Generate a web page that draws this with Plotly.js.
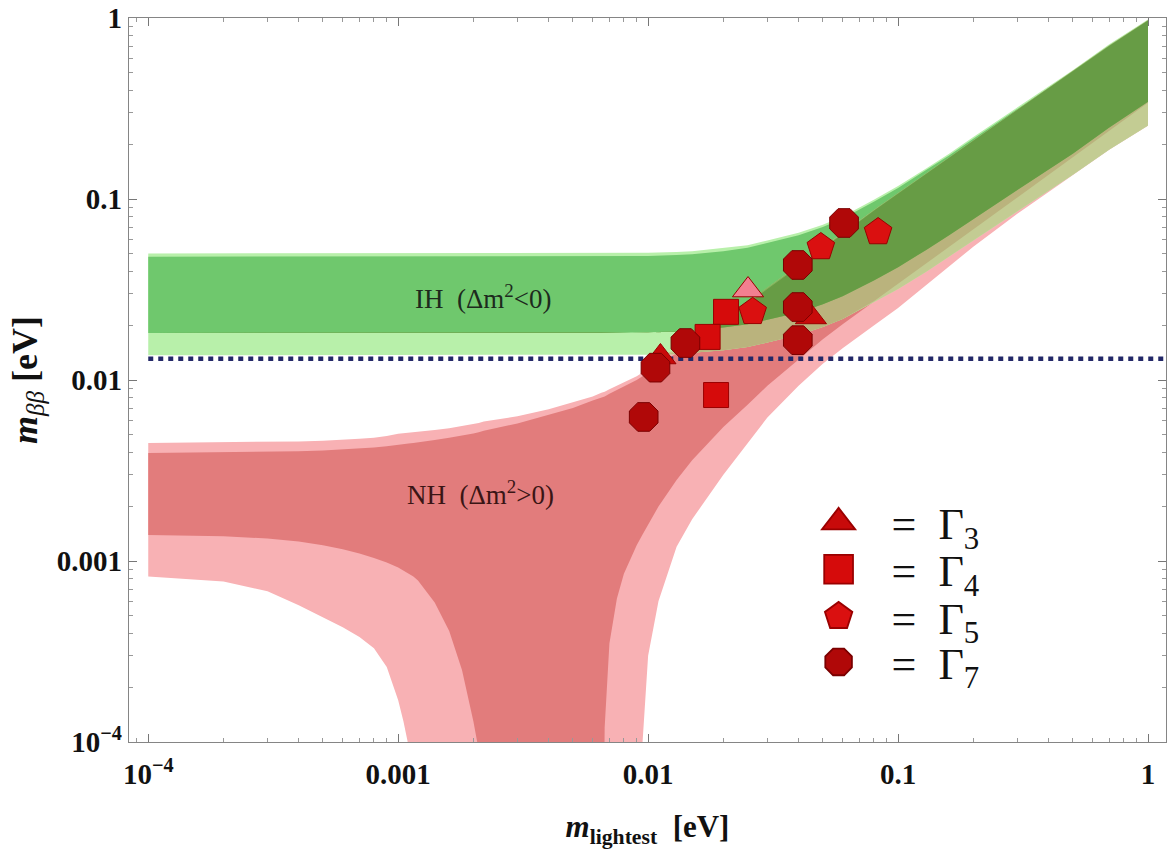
<!DOCTYPE html>
<html>
<head>
<meta charset="utf-8">
<script src="https://cdn.plot.ly/plotly-3.0.1.min.js"></script>
<style>html,body{margin:0;padding:0;background:#fff;}</style>
</head>
<body>
<div id="chart" style="width:1173px;height:866px;"></div>
<script>
// ---- data ----
const mLightest = [1e-4, 2e-4, 3e-4, 4e-4, 5e-4, 6e-4, 7e-4, 8e-4, 9e-4, 1e-3,
  1.05e-3, 1.1e-3, 1.15e-3, 1.2e-3, 1.4e-3, 1.6e-3, 1.8e-3, 2e-3, 2.1e-3, 2.2e-3,
  3e-3, 4e-3, 5e-3, 6e-3, 6.5e-3, 6.7e-3, 7e-3, 7.5e-3, 8e-3, 9e-3,
  9.5e-3, 0.01, 0.011, 0.013, 0.015, 0.02, 0.025, 0.03, 0.04, 0.05,
  0.06, 0.08, 0.1, 0.13, 0.16, 0.2, 0.3, 0.5, 0.7, 1];

// Inverted hierarchy band (3 sigma outer, inner)
const ihOuterUpper = [0.05, 0.05, 0.05, 0.05, 0.05, 0.05, 0.05, 0.05, 0.05, 0.05,
  0.05, 0.05, 0.05, 0.05, 0.05, 0.05, 0.05, 0.05, 0.05, 0.05,
  0.05, 0.05, 0.05, 0.0501, 0.0501, 0.0501, 0.0501, 0.0502, 0.0502, 0.0503,
  0.0504, 0.0505, 0.0506, 0.051, 0.0515, 0.0535, 0.0556, 0.059, 0.065, 0.072,
  0.08, 0.099, 0.118, 0.148, 0.178, 0.22, 0.32, 0.515, 0.715, 0.98];
const ihInnerUpper = [0.048, 0.048, 0.048, 0.048, 0.048, 0.048, 0.048, 0.048, 0.048, 0.048,
  0.048, 0.048, 0.048, 0.048, 0.048, 0.048, 0.048, 0.048, 0.048, 0.048,
  0.048, 0.048, 0.048, 0.0481, 0.0481, 0.0481, 0.0481, 0.0482, 0.0482, 0.0483,
  0.0484, 0.0485, 0.0486, 0.049, 0.0495, 0.0515, 0.0537, 0.057, 0.063, 0.07,
  0.078, 0.0965, 0.115, 0.145, 0.174, 0.215, 0.314, 0.507, 0.705, 0.97];
const ihInnerLower = [0.0182, 0.0182, 0.0182, 0.0182, 0.0182, 0.0182, 0.0182, 0.0182, 0.0182, 0.0182,
  0.0182, 0.0182, 0.0182, 0.0182, 0.0182, 0.0182, 0.0182, 0.0182, 0.0182, 0.0182,
  0.0182, 0.0182, 0.0182, 0.0182, 0.0182, 0.0182, 0.0182, 0.0182, 0.0182, 0.0183,
  0.0183, 0.0183, 0.0184, 0.0185, 0.0187, 0.0195, 0.0203, 0.0215, 0.0236, 0.0262,
  0.029, 0.0355, 0.042, 0.0525, 0.063, 0.077, 0.112, 0.178, 0.248, 0.345];
const ihOuterLower = [0.0137, 0.0137, 0.0137, 0.0137, 0.0137, 0.0137, 0.0137, 0.0137, 0.0137, 0.0137,
  0.0137, 0.0137, 0.0137, 0.0137, 0.0137, 0.0137, 0.0137, 0.0137, 0.0137, 0.0137,
  0.0137, 0.0137, 0.0137, 0.0137, 0.0137, 0.0137, 0.0137, 0.0137, 0.0137, 0.0138,
  0.0138, 0.0138, 0.0138, 0.0139, 0.0141, 0.0146, 0.0152, 0.0161, 0.0177, 0.0196,
  0.0217, 0.0268, 0.0318, 0.0398, 0.0478, 0.059, 0.0855, 0.136, 0.188, 0.255];

// Normal hierarchy band (3 sigma outer, inner); 1e-6 = cancellation below the frame
const nhOuterUpper = [0.00449, 0.00452, 0.00455, 0.00458, 0.00462, 0.00467, 0.00473, 0.0048, 0.0049, 0.00505,
  0.00508, 0.00511, 0.00514, 0.00517, 0.0053, 0.00542, 0.00555, 0.00568, 0.00578, 0.00589,
  0.0063, 0.0069, 0.0075, 0.0081, 0.0085, 0.0086, 0.0089, 0.0093, 0.0097, 0.0105,
  0.011, 0.0115, 0.0125, 0.0146, 0.0166, 0.0217, 0.027, 0.0325, 0.0432, 0.054,
  0.065, 0.087, 0.108, 0.139, 0.17, 0.211, 0.311, 0.511, 0.706, 0.975];
const nhInnerUpper = [0.00395, 0.00398, 0.00401, 0.00404, 0.00408, 0.00413, 0.00418, 0.00424, 0.0043, 0.0044,
  0.00443, 0.00446, 0.00449, 0.00452, 0.00466, 0.00479, 0.00492, 0.00506, 0.00515, 0.00525,
  0.00575, 0.0064, 0.0070, 0.0077, 0.0080, 0.0081, 0.0084, 0.0088, 0.0092, 0.0100,
  0.0105, 0.011, 0.0121, 0.0141, 0.0161, 0.0211, 0.0263, 0.0318, 0.0424, 0.053,
  0.064, 0.086, 0.107, 0.138, 0.169, 0.21, 0.31, 0.51, 0.7, 0.97];
const nhInnerLower = [0.00139, 0.00137, 0.00133, 0.00128, 0.00122, 0.00116, 0.0011, 0.00104, 0.00098, 0.00092,
  0.00089, 0.00085, 0.00082, 0.00078, 0.00059, 0.00041, 0.00025, 0.00013, 0.00009, 1e-6,
  1e-6, 1e-6, 1e-6, 1e-6, 1e-6, 0.00012, 0.00035, 0.00062, 0.00085, 0.00122,
  0.0014, 0.0016, 0.002, 0.0028, 0.0036, 0.0055, 0.0073, 0.0093, 0.013, 0.0168,
  0.0203, 0.0272, 0.034, 0.0443, 0.0545, 0.068, 0.102, 0.17, 0.238, 0.34];
const nhOuterLower = [0.00082, 0.00077, 0.00068, 0.00057, 0.00049, 0.00043, 0.00038, 0.00033, 0.00026, 0.00017,
  0.00013, 0.000095, 1e-6, 1e-6, 1e-6, 1e-6, 1e-6, 1e-6, 1e-6, 1e-6,
  1e-6, 1e-6, 1e-6, 1e-6, 1e-6, 1e-6, 1e-6, 1e-6, 1e-6, 1e-6,
  0.0001, 0.0003, 0.0006, 0.0012, 0.0017, 0.003, 0.0045, 0.0062, 0.0093, 0.0123,
  0.015, 0.02, 0.025, 0.0335, 0.0425, 0.0545, 0.083, 0.135, 0.187, 0.254];

// experimental bound (dotted line)
const boundX = [1e-4, 2];
const boundY = [0.0131, 0.0131];

// model points
const g3X = [0.0112, 0.0448, 0.0251];
const g3Y = [0.0134, 0.0223, 0.0314];
const g4X = [0.0205, 0.0173, 0.0187];
const g4Y = [0.0238, 0.0173, 0.00826];
const g5X = [0.0832, 0.0491, 0.0262];
const g5Y = [0.0657, 0.0543, 0.0238];
const g7X = [0.0608, 0.0397, 0.0397, 0.0397, 0.0141, 0.0107, 0.0096];
const g7Y = [0.0737, 0.0432, 0.0253, 0.0166, 0.016, 0.0117, 0.00625];

const tickVals = [1e-4, 1e-3, 1e-2, 1e-1, 1];
const tickText = ['10<sup>\u22124</sup>', '0.001', '0.01', '0.1', '1'];

// ---- build ----
function band(lo, hi, color) {
  const rev = mLightest.slice().reverse();
  return {
    type: 'scatter', mode: 'lines',
    x: mLightest.concat(rev),
    y: hi.concat(lo.slice().reverse()),
    fill: 'toself', fillcolor: color,
    line: {width: 0, color: color},
    hoverinfo: 'skip', showlegend: false
  };
}
function overlap(loA, hiA, loB, hiB) {
  const lo = loA.map((v, i) => Math.max(v, loB[i]));
  const hi = hiA.map((v, i) => Math.max(lo[i], Math.min(v, hiB[i])));
  return [lo, hi];
}

const ovOO = overlap(ihOuterLower, ihOuterUpper, nhOuterLower, nhOuterUpper);
const ovOI = overlap(ihOuterLower, ihOuterUpper, nhInnerLower, nhInnerUpper);
const ovIO = overlap(ihInnerLower, ihInnerUpper, nhOuterLower, nhOuterUpper);
const ovII = overlap(ihInnerLower, ihInnerUpper, nhInnerLower, nhInnerUpper);

const serif = 'Liberation Serif, Times New Roman, serif';
const lgName = n => '&nbsp;&nbsp;&nbsp;=&nbsp;&nbsp;\u0393<sub>' + n + '</sub>';

const traces = [
  band(nhOuterLower, nhOuterUpper, '#f8b1b4'),
  band(nhInnerLower, nhInnerUpper, '#e27c7c'),
  band(ihOuterLower, ihOuterUpper, '#b8f0aa'),
  band(ihInnerLower, ihInnerUpper, '#6fc86d'),
  band(ovOO[0], ovOO[1], '#c3cc93'),
  band(ovOI[0], ovOI[1], '#bab37d'),
  band(ovIO[0], ovIO[1], '#84b65e'),
  band(ovII[0], ovII[1], '#679c45'),
  {type: 'scatter', mode: 'lines', x: boundX, y: boundY,
   line: {color: '#232868', width: 4.5, dash: '5px,5px'},
   hoverinfo: 'skip', showlegend: false},
  {type: 'scatter', mode: 'markers', x: g3X, y: g3Y, name: lgName(3),
   legend: 'legend',
   marker: {symbol: 'triangle-up', size: 27, color: ['#c80a0a', '#c80a0a', '#f27f90'],
            line: {width: 1, color: '#9a0000'}}},
  {type: 'scatter', mode: 'markers', x: g4X, y: g4Y, name: lgName(4),
   legend: 'legend2',
   marker: {symbol: 'square', size: 25, color: '#d60b0b', line: {width: 1, color: '#9a0000'}}},
  {type: 'scatter', mode: 'markers', x: g5X, y: g5Y, name: lgName(5),
   legend: 'legend3',
   marker: {symbol: 'pentagon', size: 29, color: '#da1010', line: {width: 1, color: '#9a0000'}}},
  {type: 'scatter', mode: 'markers', x: g7X, y: g7Y, name: lgName(7),
   legend: 'legend4',
   marker: {symbol: 'octagon', size: 31, color: '#b00808', line: {width: 1, color: '#7a0000'}}}
];

const axisBase = {
  type: 'log', showgrid: false, zeroline: false,
  showline: true, linecolor: '#858585', linewidth: 1.3, mirror: 'ticks',
  ticks: 'inside', ticklen: 8, tickwidth: 1, tickcolor: '#777',
  tickmode: 'array', tickvals: tickVals, ticktext: tickText,
  tickfont: {family: serif, size: 29, color: '#111', weight: 'bold'},
  minor: {ticks: 'inside', ticklen: 4, tickwidth: 1, tickcolor: '#999', dtick: 'D1', showgrid: false},
  automargin: false
};

const legendBase = {
  bgcolor: 'rgba(0,0,0,0)', borderwidth: 0,
  font: {family: serif, size: 44, color: '#111'},
  xref: 'paper', yref: 'paper', xanchor: 'left', yanchor: 'middle',
  itemclick: false, itemdoubleclick: false, x: 0.665
};

const layout = {
  width: 1173, height: 866,
  margin: {l: 129, r: 7, t: 18, b: 124},
  paper_bgcolor: '#ffffff', plot_bgcolor: '#ffffff',
  font: {family: serif, color: '#111'},
  showlegend: true,
  legend: Object.assign({}, legendBase, {y: 0.303}),
  legend2: Object.assign({}, legendBase, {y: 0.238}),
  legend3: Object.assign({}, legendBase, {y: 0.173}),
  legend4: Object.assign({}, legendBase, {y: 0.110}),
  xaxis: Object.assign({}, axisBase, {
    range: [-4.077, 0.072],
    ticklabelstandoff: 6,
    title: {text: '<b><i>m</i></b><sub><b>lightest</b></sub><b>&nbsp;&nbsp;[eV]</b>',
            font: {family: serif, size: 31, color: '#111'}, standoff: 26}
  }),
  yaxis: Object.assign({}, axisBase, {
    range: [-4, 0],
    title: {text: '<b><i>m</i></b><sub><i>\u03b2\u03b2</i></sub><b>&nbsp;[eV]</b>',
            font: {family: serif, size: 36, color: '#111'}, standoff: 8}
  }),
  annotations: [
    {xref: 'paper', yref: 'paper', x: 0.342, y: 0.615, xanchor: 'center', yanchor: 'middle',
     showarrow: false,
     text: 'IH&nbsp;&nbsp;(\u0394m<sup>2</sup>&lt;0)',
     font: {family: serif, size: 27, color: '#1d2a1d'}},
    {xref: 'paper', yref: 'paper', x: 0.339, y: 0.344, xanchor: 'center', yanchor: 'middle',
     showarrow: false,
     text: 'NH&nbsp;&nbsp;(\u0394m<sup>2</sup>&gt;0)',
     font: {family: serif, size: 27, color: '#3a1515'}}
  ]
};

Plotly.newPlot('chart', traces, layout, {displayModeBar: false, staticPlot: true}).then(function (gd) {
  gd.querySelectorAll('g.legendpoints path.scatterpts').forEach(function (p) {
    const t = p.getAttribute('transform') || '';
    p.setAttribute('transform', t + ' scale(1.8)');
  });
});
</script>
</body>
</html>
